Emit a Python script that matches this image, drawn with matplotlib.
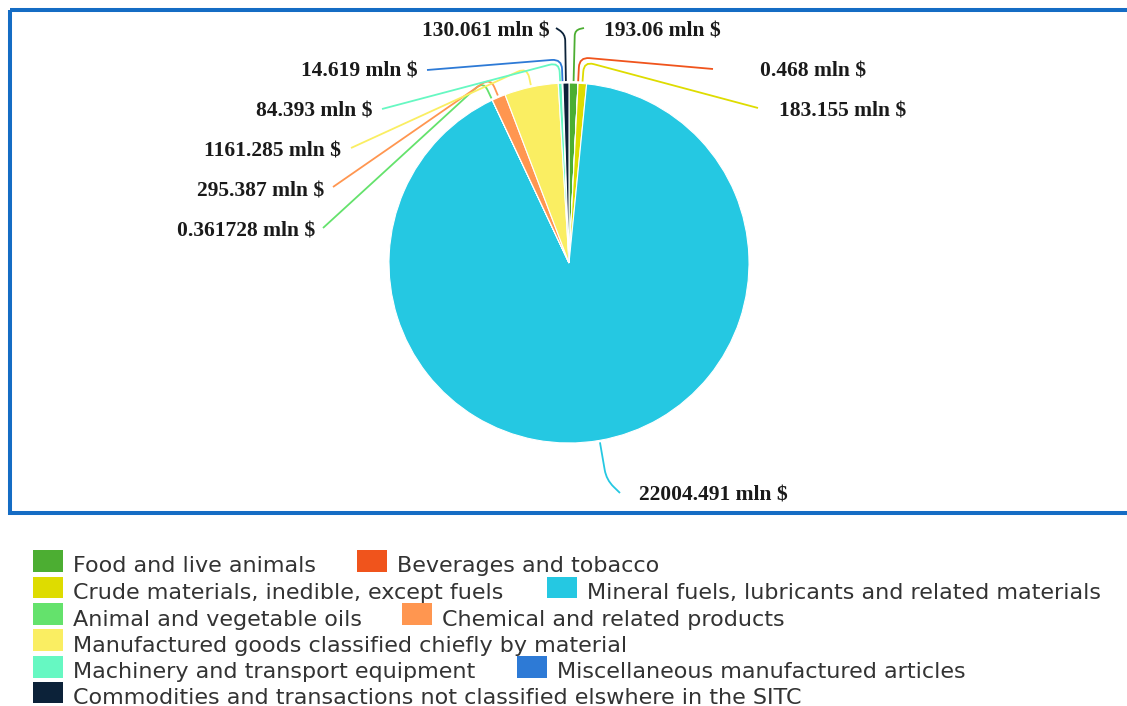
import matplotlib
matplotlib.use("Agg")
import numpy as np
import matplotlib.pyplot as plt
from matplotlib.patches import Rectangle, PathPatch
from matplotlib.path import Path

# SITC section values, mln $
categories = [
    "Food and live animals",
    "Beverages and tobacco",
    "Crude materials, inedible, except fuels",
    "Mineral fuels, lubricants and related materials",
    "Animal and vegetable oils",
    "Chemical and related products",
    "Manufactured goods classified chiefly by material",
    "Machinery and transport equipment",
    "Miscellaneous manufactured articles",
    "Commodities and transactions not classified elswhere in the SITC",
]
values = [193.06, 0.468, 183.155, 22004.491, 0.361728,
          295.387, 1161.285, 84.393, 14.619, 130.061]
colors = ["#4cae32", "#f0541c", "#dedc00", "#25c8e2", "#64e26c",
          "#ff9650", "#faee62", "#66f8c2", "#2d7ad6", "#0c2239"]

# canvas in pixel units (y down)
W, H = 1127, 706
CX, CY, R = 569, 263, 180

# data-label layout: knee distance beyond the rim, connector end, text anchor
knee_len = [53, 26, 22, 40, 21, 21, 20, 21, 24, 49]
conn_end = [(584, 28), (713, 69), (758, 108), (620, 493), (323, 228),
            (333, 187), (351, 148), (382, 109), (427, 70), (556, 28)]
text_pos = [(604, 32, "left"), (760, 72, "left"), (779, 111, "left"),
            (639, 496, "left"), (315, 231, "right"), (324, 191, "right"),
            (341, 152, "right"), (373, 112, "right"), (418, 72, "right"),
            (550, 32, "right")]

# legend rows (item index, square x)
legend_rows = [[(0, 33), (1, 357)], [(2, 33), (3, 547)], [(4, 33), (5, 402)],
               [(6, 33)], [(7, 33), (8, 517)], [(9, 33)]]
legend_top = [550, 576.5, 603, 629, 656, 681.5]

fig = plt.figure(figsize=(W / 100, H / 100), dpi=100, facecolor="white")
ax = fig.add_axes([0, 0, 1, 1])

# clockwise from 12 o'clock (y axis is flipped below)
ax.pie(values, colors=colors, startangle=270, counterclock=True,
       center=(CX, CY), radius=R,
       wedgeprops=dict(edgecolor="white", linewidth=0.8))
ax.set_xlim(0, W)
ax.set_ylim(H, 0)
ax.set_aspect("auto")
ax.axis("off")

# chart frame
ax.add_patch(Rectangle((9.5, 9.5), W + 10, 503.5, fill=False,
                       edgecolor="#156cc4", linewidth=2.9, zorder=5))

# connectors + data labels
frac = np.array(values) / sum(values)
mid = (np.cumsum(frac) - frac / 2) * 2 * np.pi
for i, v in enumerate(values):
    u = np.array([np.sin(mid[i]), -np.cos(mid[i])])
    c = np.array([CX, CY])
    p0 = c + (R + 2) * u
    k = c + (R + knee_len[i]) * u
    e = np.array(conn_end[i], dtype=float)
    d = e - k
    dl = np.hypot(*d)
    rr = min(10, knee_len[i] * 0.5, dl * 0.6)
    q1 = k - rr * u
    q2 = k + rr * d / dl
    path = Path([p0, q1, k, q2, e],
                [Path.MOVETO, Path.LINETO, Path.CURVE3, Path.CURVE3, Path.LINETO])
    ax.add_patch(PathPatch(path, fill=False, edgecolor=colors[i],
                           linewidth=1.3, zorder=3))
    tx, ty, ha = text_pos[i]
    ax.text(tx, ty, f"{v} mln $", ha=ha, va="center",
            family="Liberation Serif", fontweight="bold", fontsize=15.5,
            color="#1a1a1a")

# legend
for row, top in zip(legend_rows, legend_top):
    for idx, sx in row:
        ax.add_patch(Rectangle((sx, top), 30, 21.5, facecolor=colors[idx],
                               edgecolor="none"))
        ax.text(sx + 40, top + 22.5, categories[idx], ha="left", va="baseline",
                family="DejaVu Sans", fontsize=16, color="#333333")

fig.savefig("out.png", dpi=100, facecolor="white")
